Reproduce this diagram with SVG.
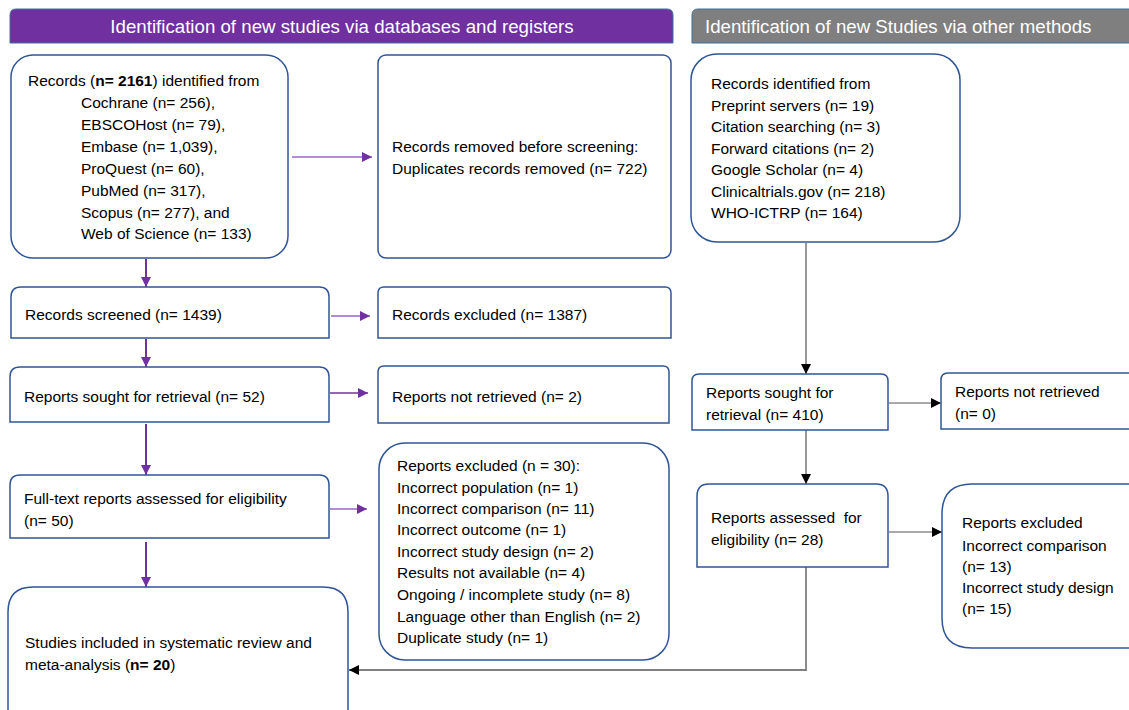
<svg xmlns="http://www.w3.org/2000/svg" width="1129" height="710" viewBox="0 0 1129 710">
<defs>
<marker id="ap" viewBox="0 0 10 10" refX="10" refY="5" markerWidth="10" markerHeight="10" markerUnits="userSpaceOnUse" orient="auto"><path d="M0,0 L10,5 L0,10 Z" fill="#7030a0"/></marker>
<marker id="ak" viewBox="0 0 10 10" refX="10" refY="5" markerWidth="10" markerHeight="10" markerUnits="userSpaceOnUse" orient="auto"><path d="M0,0 L10,5 L0,10 Z" fill="#000"/></marker>
</defs>
<style>
.box{fill:#fff;stroke:#2f5597;stroke-width:1.5}
.t{font-family:"Liberation Sans",Arial,sans-serif;font-size:15.5px;fill:#000}
.h{font-family:"Liberation Sans",Arial,sans-serif;font-size:18.7px;fill:#fff}
.pv{stroke:#7030a0;stroke-width:2;fill:none;marker-end:url(#ap)}
.ph{stroke:#9966cc;stroke-width:1.3;fill:none;marker-end:url(#ap)}
.pd{stroke:#7030a0;stroke-width:1.3;fill:none;marker-end:url(#ap)}
.k{stroke:#555;stroke-width:1.2;fill:none;marker-end:url(#ak)}
.g{stroke:#808080;stroke-width:1.8;fill:none;marker-end:url(#ak)}
</style>
<rect width="1129" height="710" fill="#fff"/>

<g id="header-left">
<path d="M10,43 V15 Q10,9 16,9 H667 Q673,9 673,15 V43 Z" fill="#7030a0" stroke="#41719c" stroke-width="1"/>
<text class="h" x="342" y="33" text-anchor="middle">Identification of new studies via databases and registers</text>
</g>
<g id="header-right">
<path d="M692,43 V15 Q692,9 698,9 H1135 V43 Z" fill="#7f7f7f" stroke="#41719c" stroke-width="1"/>
<text class="h" x="705" y="33">Identification of new Studies via other methods</text>
</g>

<g id="connectors">
<line class="ph" x1="292" y1="157" x2="372" y2="157"/>
<line class="pv" x1="146" y1="259" x2="146" y2="287"/>
<line class="ph" x1="331" y1="316" x2="370" y2="316"/>
<line class="pv" x1="146" y1="339" x2="146" y2="367"/>
<line class="pd" x1="330" y1="393" x2="368" y2="393"/>
<line class="pv" x1="146" y1="424" x2="146" y2="475"/>
<line class="ph" x1="330" y1="509" x2="367" y2="509"/>
<line class="pv" x1="146" y1="542" x2="146" y2="587"/>
<line class="k" x1="806" y1="243" x2="806" y2="374"/>
<line class="k" x1="889" y1="403" x2="941" y2="403"/>
<line class="k" x1="806" y1="430" x2="806" y2="484"/>
<line class="k" x1="889" y1="532" x2="942" y2="532"/>
<polyline class="g" points="806,567 806,670 349,670"/>
</g>

<g id="records-identified">
<rect class="box" x="11" y="55" width="277" height="203" rx="22"/>
<text class="t" x="28" y="86">Records (<tspan font-weight="bold">n= 2161</tspan>) identified from</text>
<text class="t" x="81" y="108">Cochrane (n= 256),</text>
<text class="t" x="81" y="130">EBSCOHost (n= 79),</text>
<text class="t" x="81" y="152">Embase (n= 1,039),</text>
<text class="t" x="81" y="174">ProQuest (n= 60),</text>
<text class="t" x="81" y="196">PubMed (n= 317),</text>
<text class="t" x="81" y="218">Scopus (n= 277), and</text>
<text class="t" x="81" y="239">Web of Science (n= 133)</text>
</g>
<g id="records-removed">
<rect class="box" x="378" y="55" width="293" height="203" rx="8"/>
<text class="t" x="392" y="152">Records removed before screening:</text>
<text class="t" x="392" y="174">Duplicates records removed (n= 722)</text>
</g>
<g id="records-screened">
<path class="box" d="M11,338 V297 Q11,287 21,287 H319 Q329,287 329,297 V338 Z"/>
<text class="t" x="25" y="320">Records screened (n= 1439)</text>
</g>
<g id="records-excluded">
<path class="box" d="M378,338 V293 Q378,287 384,287 H665 Q671,287 671,293 V338 Z"/>
<text class="t" x="392" y="320">Records excluded (n= 1387)</text>
</g>
<g id="reports-sought">
<path class="box" d="M10,422 V377 Q10,367 20,367 H319 Q329,367 329,377 V422 Z"/>
<text class="t" x="24" y="402">Reports sought for retrieval (n= 52)</text>
</g>
<g id="reports-not-retrieved">
<path class="box" d="M378,423 V372 Q378,366 384,366 H663 Q669,366 669,372 V423 Z"/>
<text class="t" x="392" y="402">Reports not retrieved (n= 2)</text>
</g>
<g id="fulltext-assessed">
<path class="box" d="M10,538 V485 Q10,475 20,475 H319 Q329,475 329,485 V538 Z"/>
<text class="t" x="24" y="504">Full-text reports assessed for eligibility</text>
<text class="t" x="24" y="526">(n= 50)</text>
</g>
<g id="reports-excluded-left">
<rect class="box" x="379" y="443" width="290" height="217" rx="26"/>
<text class="t" x="397" y="471">Reports excluded (n = 30):</text>
<text class="t" x="397" y="493">Incorrect population (n= 1)</text>
<text class="t" x="397" y="514">Incorrect comparison (n= 11)</text>
<text class="t" x="397" y="535">Incorrect outcome (n= 1)</text>
<text class="t" x="397" y="557">Incorrect study design (n= 2)</text>
<text class="t" x="397" y="578">Results not available (n= 4)</text>
<text class="t" x="397" y="600">Ongoing / incomplete study (n= 8)</text>
<text class="t" x="397" y="622">Language other than English (n= 2)</text>
<text class="t" x="397" y="643">Duplicate study (n= 1)</text>
</g>
<g id="studies-included">
<path class="box" d="M8,720 V612 Q8,587 33,587 H323 Q348,587 348,612 V720"/>
<text class="t" x="25" y="648">Studies included in systematic review and</text>
<text class="t" x="25" y="670">meta-analysis (<tspan font-weight="bold">n= 20</tspan>)</text>
</g>

<g id="other-records">
<rect class="box" x="691" y="54" width="269" height="188" rx="26"/>
<text class="t" x="711" y="89">Records identified from</text>
<text class="t" x="711" y="111">Preprint servers (n= 19)</text>
<text class="t" x="711" y="132">Citation searching (n= 3)</text>
<text class="t" x="711" y="154">Forward citations (n= 2)</text>
<text class="t" x="711" y="175">Google Scholar (n= 4)</text>
<text class="t" x="711" y="197">Clinicaltrials.gov (n= 218)</text>
<text class="t" x="711" y="218">WHO-ICTRP (n= 164)</text>
</g>
<g id="other-sought">
<path class="box" d="M692,430 V381 Q692,374 699,374 H881 Q888,374 888,381 V430 Z"/>
<text class="t" x="706" y="398">Reports sought for</text>
<text class="t" x="706" y="420">retrieval (n= 410)</text>
</g>
<g id="other-not-retrieved">
<path class="box" d="M941,429 V380 Q941,373 948,373 H1135 V429 Z"/>
<text class="t" x="955" y="397">Reports not retrieved</text>
<text class="t" x="955" y="419">(n= 0)</text>
</g>
<g id="other-assessed">
<path class="box" d="M697,567 V496 Q697,484 709,484 H876 Q888,484 888,496 V567 Z"/>
<text class="t" x="711" y="523" style="white-space:pre">Reports assessed  for</text>
<text class="t" x="711" y="545">eligibility (n= 28)</text>
</g>
<g id="other-excluded">
<path class="box" d="M1135,648 H972 Q942,648 942,618 V514 Q942,484 972,484 H1135"/>
<text class="t" x="962" y="528">Reports excluded</text>
<text class="t" x="962" y="551">Incorrect comparison</text>
<text class="t" x="962" y="572">(n= 13)</text>
<text class="t" x="962" y="593">Incorrect study design</text>
<text class="t" x="962" y="614">(n= 15)</text>
</g>
</svg>
